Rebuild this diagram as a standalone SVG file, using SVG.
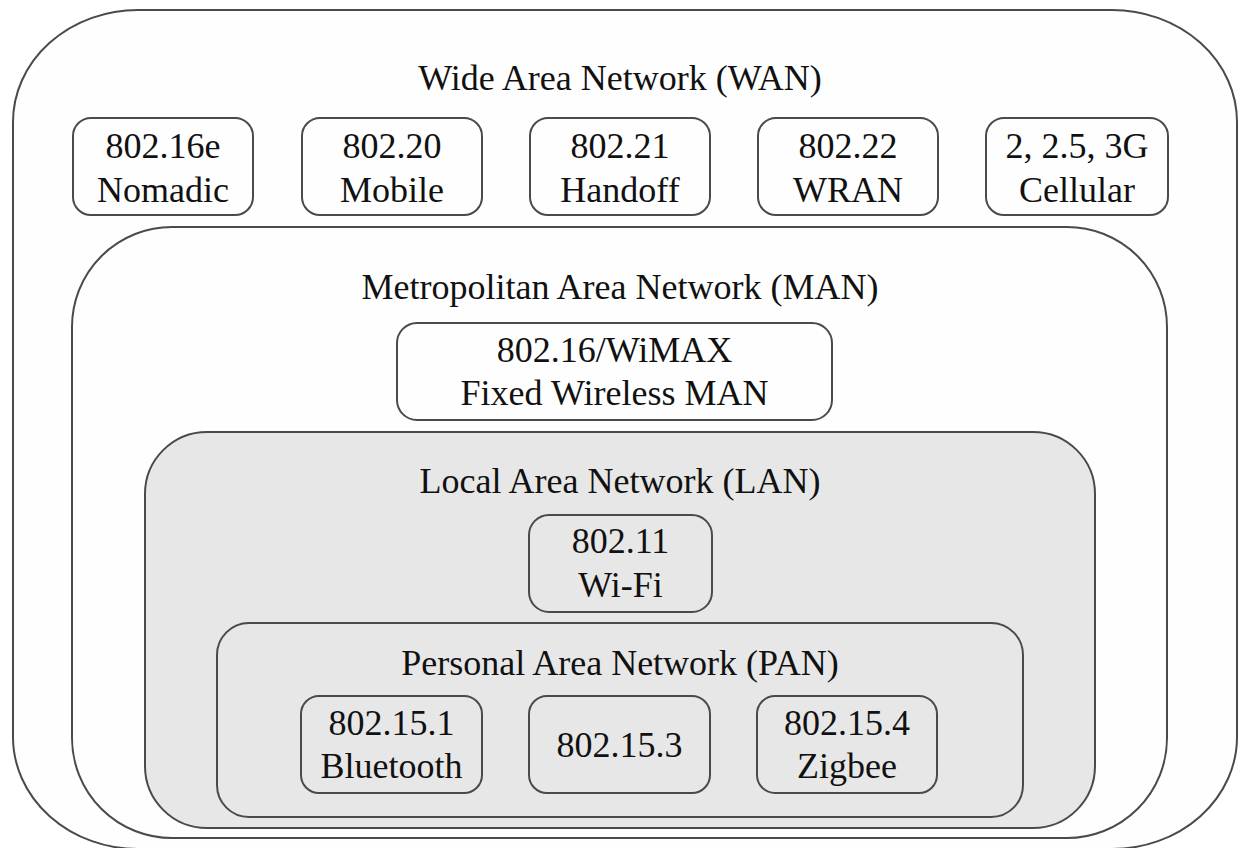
<svg xmlns="http://www.w3.org/2000/svg" width="1239" height="848" viewBox="0 0 1239 848">
  <style>
    .zone { stroke: #4a4a4a; stroke-width: 2; }
    .white { fill: #fefefe; }
    .grey { fill: #e7e7e7; }
    .box { stroke: #4a4a4a; stroke-width: 2; }
    .t { font-size: 36px; fill: #111; text-anchor: middle; }
  </style>
  <rect width="1239" height="848" fill="#ffffff"/>

  <g font-family="Liberation Serif, DejaVu Serif, serif">
  <g id="wan">
    <rect class="zone white" x="13" y="10" width="1224" height="839" rx="125" ry="112"/>
    <text class="t" x="620" y="90">Wide Area Network (WAN)</text>
  </g>
  <g id="wan-80216e">
    <rect class="box white" x="73" y="118" width="180" height="97" rx="18"/>
    <text class="t" x="163" y="158">802.16e</text>
    <text class="t" x="163" y="202">Nomadic</text>
  </g>
  <g id="wan-80220">
    <rect class="box white" x="302" y="118" width="180" height="97" rx="18"/>
    <text class="t" x="392" y="158">802.20</text>
    <text class="t" x="392" y="202">Mobile</text>
  </g>
  <g id="wan-80221">
    <rect class="box white" x="530" y="118" width="180" height="97" rx="18"/>
    <text class="t" x="620" y="158">802.21</text>
    <text class="t" x="620" y="202">Handoff</text>
  </g>
  <g id="wan-80222">
    <rect class="box white" x="758" y="118" width="180" height="97" rx="18"/>
    <text class="t" x="848" y="158">802.22</text>
    <text class="t" x="848" y="202">WRAN</text>
  </g>
  <g id="wan-cellular">
    <rect class="box white" x="986" y="118" width="182" height="97" rx="18"/>
    <text class="t" x="1077" y="158">2, 2.5, 3G</text>
    <text class="t" x="1077" y="202">Cellular</text>
  </g>

  <g id="man">
    <rect class="zone white" x="72" y="227" width="1095" height="611" rx="100"/>
    <text class="t" x="620" y="299">Metropolitan Area Network (MAN)</text>
  </g>
  <g id="man-wimax">
    <rect class="box white" x="397" y="323" width="435" height="97" rx="20"/>
    <text class="t" x="614.5" y="362">802.16/WiMAX</text>
    <text class="t" x="614.5" y="405">Fixed Wireless MAN</text>
  </g>

  <g id="lan">
    <rect class="zone grey" x="145" y="432" width="950" height="396" rx="62"/>
    <text class="t" x="620" y="493">Local Area Network (LAN)</text>
  </g>
  <g id="lan-wifi">
    <rect class="box grey" x="529" y="515" width="183" height="97" rx="20"/>
    <text class="t" x="620.5" y="553">802.11</text>
    <text class="t" x="620.5" y="597">Wi-Fi</text>
  </g>

  <g id="pan">
    <rect class="zone grey" x="217" y="623" width="806" height="194" rx="32"/>
    <text class="t" x="620" y="675">Personal Area Network (PAN)</text>
  </g>
  <g id="pan-bluetooth">
    <rect class="box grey" x="301" y="696" width="181" height="97" rx="18"/>
    <text class="t" x="391.5" y="735">802.15.1</text>
    <text class="t" x="391.5" y="778">Bluetooth</text>
  </g>
  <g id="pan-80215-3">
    <rect class="box grey" x="529" y="696" width="181" height="97" rx="18"/>
    <text class="t" x="619.5" y="757">802.15.3</text>
  </g>
  <g id="pan-zigbee">
    <rect class="box grey" x="757" y="696" width="180" height="97" rx="18"/>
    <text class="t" x="847" y="735">802.15.4</text>
    <text class="t" x="847" y="778">Zigbee</text>
  </g>
  </g>

  <g id="connectors"/>
</svg>
